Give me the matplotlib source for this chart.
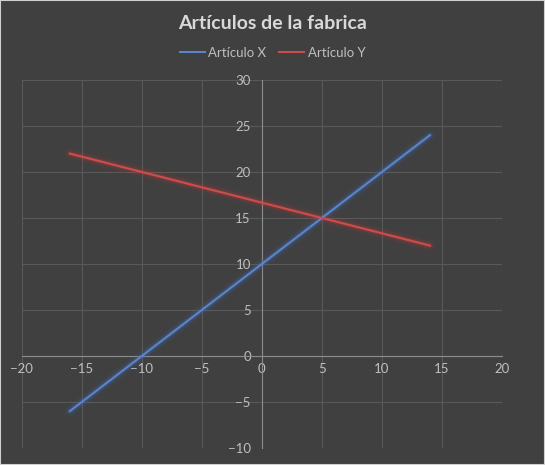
import matplotlib.pyplot as plt

# data
x_vals = [-16, 14]
articulo_x = [-6, 24]
articulo_y = [22, 12]
x_ticks = [-20, -15, -10, -5, 0, 5, 10, 15, 20]
y_ticks = [-10, -5, 0, 5, 10, 15, 20, 25, 30]

bg = '#404040'
grid_c = '#595959'
text_c = '#bfbfbf'

plt.rcParams['font.family'] = ['Lato', 'DejaVu Sans']

fig = plt.figure(figsize=(5.45, 4.65), dpi=100, facecolor=bg)
ax = fig.add_axes([0.040, 0.0366, 0.881, 0.7914])
ax.set_facecolor(bg)

# lines with a soft glow like the Excel style
for y, col, glow, name in [(articulo_x, '#5c84c8', '#3f6fc0', 'Artículo X'),
                           (articulo_y, '#cc4e4c', '#c03c3a', 'Artículo Y')]:
    for w, a in [(8, 0.07), (5, 0.12), (3.2, 0.18)]:
        ax.plot(x_vals, y, color=glow, lw=w, alpha=a, solid_capstyle='round', zorder=3)
    ax.plot(x_vals, y, color=col, lw=1.5, label=name, zorder=4)

ax.set_xlim(-20, 20)
ax.set_ylim(-10, 30)
ax.set_xticks(x_ticks)
ax.set_yticks(y_ticks)
ax.grid(True, color=grid_c, lw=0.8)
ax.set_axisbelow(True)

# axes crossing at the origin
ax.spines['left'].set_position(('data', 0))
ax.spines['bottom'].set_position(('data', 0))
ax.spines['left'].set_color('#8c8c8c')
ax.spines['bottom'].set_color('#8c8c8c')
ax.spines['top'].set_visible(False)
ax.spines['right'].set_visible(False)
ax.tick_params(colors=text_c, labelsize=9.5, length=0, pad=5)
ax.tick_params(axis='y', pad=8)
for lbl in ax.get_xticklabels() + ax.get_yticklabels():
    lbl.set_color(text_c)

fig.suptitle('Artículos de la fabrica', color='#d9d9d9', fontsize=14,
             fontweight='bold', y=0.968)
leg = fig.legend(loc='center', bbox_to_anchor=(0.5, 0.887), ncol=2,
                 frameon=False, fontsize=9.5, handlelength=1.9,
                 handletextpad=0.25, columnspacing=1.0)
for t in leg.get_texts():
    t.set_color(text_c)

# thin light border around the picture
fig.patches.append(plt.Rectangle((0, 0), 1, 1, transform=fig.transFigure,
                                 fill=False, edgecolor='#d0d0d0', lw=1.5))

fig.savefig('out.png', dpi=100, facecolor=bg)
